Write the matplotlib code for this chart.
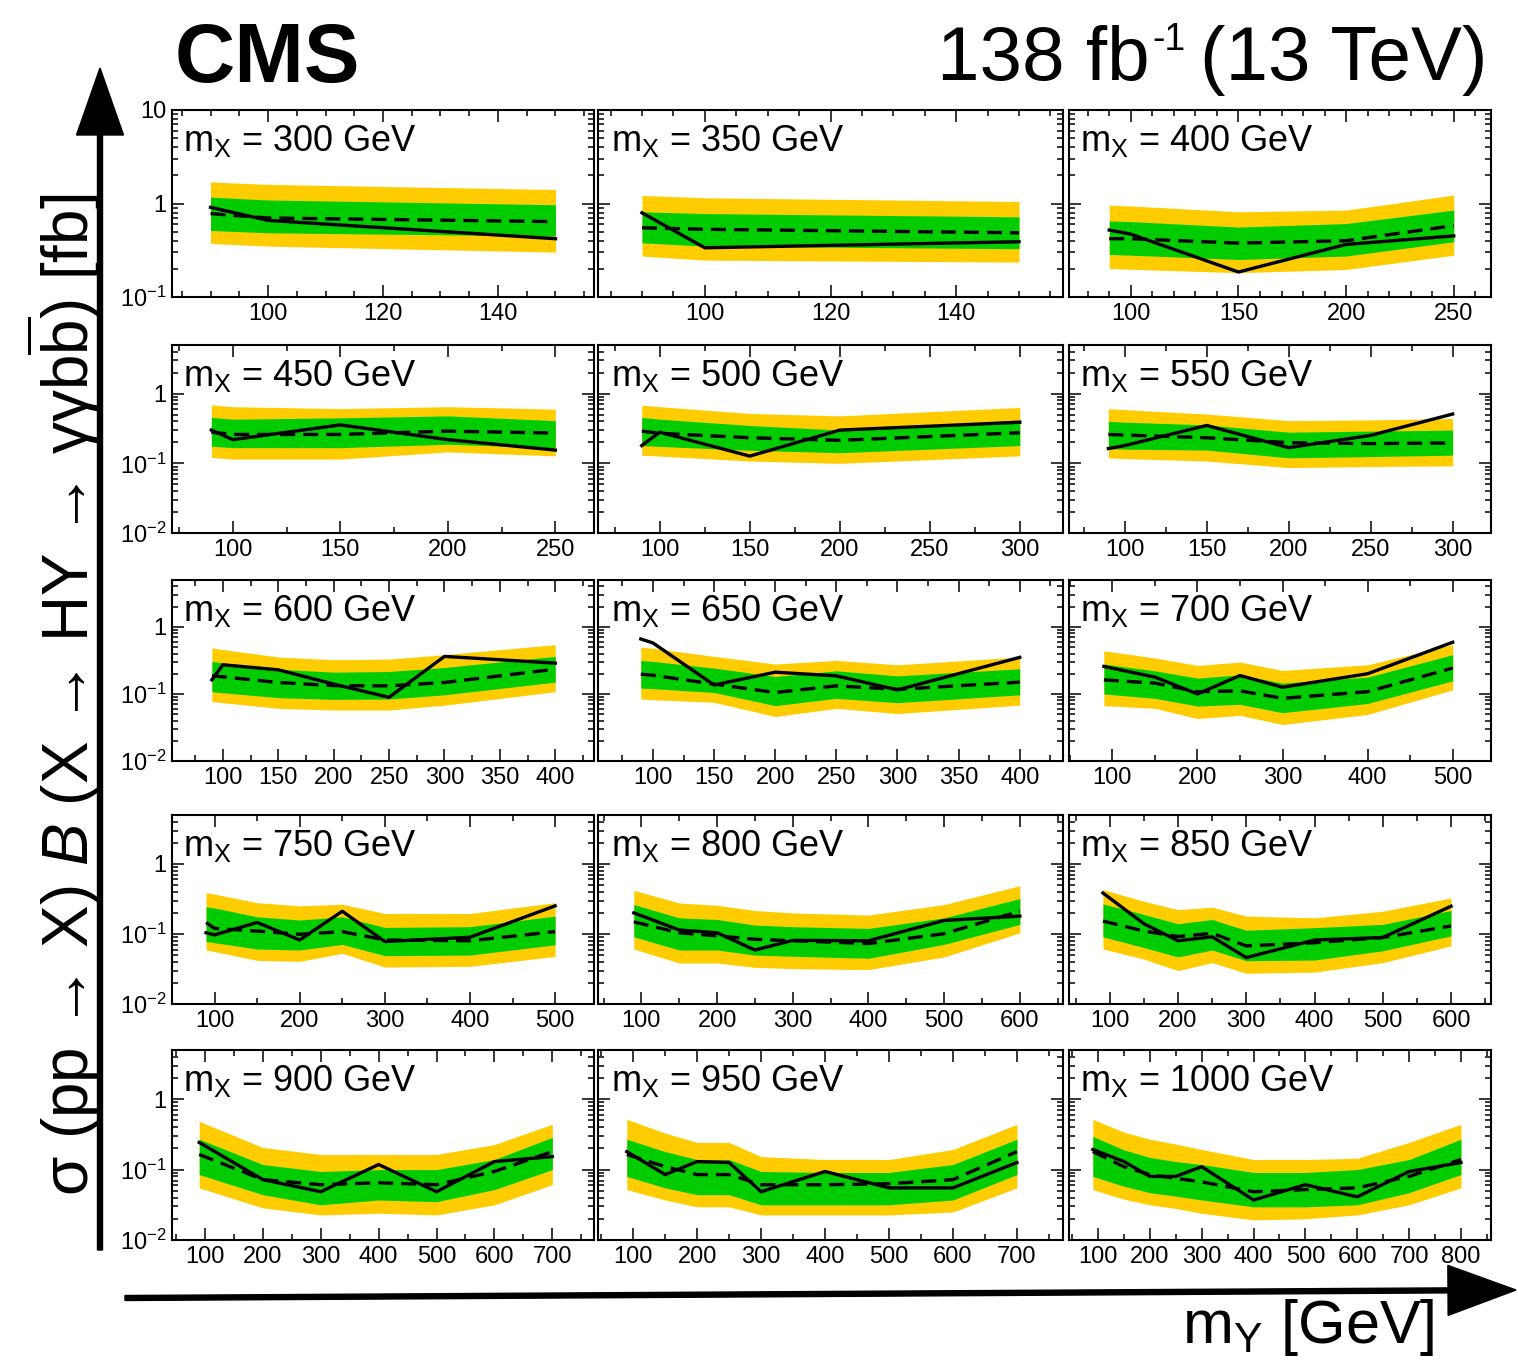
import math
import matplotlib
matplotlib.use('Agg')
import matplotlib.pyplot as plt
from matplotlib.patches import FancyArrow
from matplotlib.transforms import IdentityTransform
from matplotlib.ticker import MultipleLocator, LogLocator, FuncFormatter, NullFormatter

plt.rcParams['font.family'] = ['Liberation Sans', 'DejaVu Sans']
plt.rcParams['mathtext.fontset'] = 'custom'
plt.rcParams['mathtext.rm'] = 'Liberation Sans'
plt.rcParams['mathtext.it'] = 'Liberation Sans:italic'
plt.rcParams['mathtext.bf'] = 'Liberation Sans:bold'

# X masses, one panel each
mx_values = [300, 350, 400, 450, 500, 550, 600, 650, 700, 750, 800, 850, 900, 950, 1000]

# mY points of each panel (GeV)
my_points = [
    [90, 100, 150],
    [90, 100, 150],
    [90, 100, 150, 200, 250],
    [90, 100, 150, 200, 250],
    [90, 100, 150, 200, 300],
    [90, 100, 150, 200, 250, 300],
    [90, 100, 150, 200, 250, 300, 400],
    [90, 100, 150, 200, 250, 300, 400],
    [90, 150, 200, 250, 300, 400, 500],
    [90, 100, 150, 200, 250, 300, 400, 500],
    [90, 150, 200, 250, 300, 400, 500, 600],
    [90, 150, 200, 250, 300, 400, 500, 600],
    [90, 200, 300, 400, 500, 600, 700],
    [90, 150, 200, 250, 300, 400, 500, 600, 700],
    [90, 150, 200, 250, 300, 400, 500, 600, 700, 800],
]

# observed limits (fb)
obs_limit = [
    [0.91, 0.66, 0.42],
    [0.795, 0.336, 0.39],
    [0.52, 0.47, 0.185, 0.365, 0.45],
    [0.30, 0.219, 0.356, 0.219, 0.155],
    [0.18, 0.28, 0.127, 0.30, 0.389],
    [0.163, 0.18, 0.35, 0.168, 0.252, 0.51],
    [0.162, 0.272, 0.229, 0.14, 0.089, 0.363, 0.288],
    [0.66, 0.575, 0.136, 0.211, 0.186, 0.115, 0.351],
    [0.257, 0.178, 0.10, 0.188, 0.126, 0.20, 0.589],
    [0.104, 0.097, 0.146, 0.082, 0.211, 0.078, 0.0897, 0.252],
    [0.20, 0.114, 0.104, 0.059, 0.081, 0.08, 0.156, 0.18],
    [0.385, 0.14, 0.080, 0.091, 0.046, 0.082, 0.089, 0.249],
    [0.243, 0.072, 0.0485, 0.118, 0.0485, 0.13, 0.153],
    [0.18, 0.085, 0.13, 0.126, 0.0485, 0.094, 0.055, 0.055, 0.126],
    [0.193, 0.13, 0.08, 0.08, 0.11, 0.037, 0.061, 0.041, 0.094, 0.126],
]

# median expected limits (fb)
exp_limit = [
    [0.78, 0.70, 0.64],
    [0.55, 0.53, 0.486],
    [0.42, 0.42, 0.377, 0.40, 0.58],
    [0.28, 0.26, 0.26, 0.29, 0.272],
    [0.29, 0.27, 0.233, 0.214, 0.275],
    [0.26, 0.255, 0.233, 0.198, 0.192, 0.196],
    [0.186, 0.18, 0.148, 0.133, 0.132, 0.148, 0.234],
    [0.197, 0.19, 0.14, 0.105, 0.132, 0.117, 0.15],
    [0.162, 0.145, 0.108, 0.111, 0.086, 0.108, 0.243],
    [0.146, 0.12, 0.110, 0.099, 0.108, 0.082, 0.08, 0.108],
    [0.149, 0.104, 0.094, 0.084, 0.08, 0.073, 0.101, 0.211],
    [0.153, 0.110, 0.092, 0.102, 0.0676, 0.075, 0.089, 0.13],
    [0.164, 0.072, 0.061, 0.065, 0.061, 0.094, 0.18],
    [0.164, 0.11, 0.085, 0.085, 0.061, 0.061, 0.063, 0.072, 0.18],
    [0.18, 0.11, 0.085, 0.075, 0.067, 0.0485, 0.052, 0.055, 0.08, 0.139],
]

# 68% band
band68_hi = [
    [1.17, 1.09, 0.97],
    [0.815, 0.78, 0.72],
    [0.65, 0.64, 0.56, 0.61, 0.85],
    [0.457, 0.43, 0.45, 0.48, 0.41],
    [0.457, 0.43, 0.35, 0.30, 0.42],
    [0.40, 0.39, 0.356, 0.28, 0.29, 0.30],
    [0.305, 0.29, 0.234, 0.211, 0.216, 0.248, 0.363],
    [0.316, 0.305, 0.243, 0.182, 0.221, 0.186, 0.237],
    [0.279, 0.221, 0.172, 0.193, 0.145, 0.178, 0.385],
    [0.244, 0.235, 0.176, 0.158, 0.176, 0.124, 0.127, 0.18],
    [0.263, 0.17, 0.161, 0.134, 0.127, 0.12, 0.17, 0.32],
    [0.269, 0.19, 0.14, 0.161, 0.113, 0.123, 0.137, 0.216],
    [0.27, 0.118, 0.094, 0.10, 0.10, 0.139, 0.287],
    [0.27, 0.18, 0.139, 0.139, 0.094, 0.091, 0.091, 0.118, 0.27],
    [0.296, 0.19, 0.149, 0.13, 0.118, 0.091, 0.091, 0.10, 0.139, 0.27],
]
band68_lo = [
    [0.515, 0.486, 0.448],
    [0.38, 0.35, 0.328],
    [0.285, 0.28, 0.252, 0.274, 0.39],
    [0.176, 0.168, 0.168, 0.188, 0.167],
    [0.18, 0.175, 0.154, 0.142, 0.18],
    [0.163, 0.16, 0.155, 0.12, 0.125, 0.131],
    [0.108, 0.104, 0.088, 0.083, 0.084, 0.097, 0.15],
    [0.122, 0.12, 0.105, 0.067, 0.086, 0.074, 0.097],
    [0.10, 0.086, 0.066, 0.07, 0.0525, 0.072, 0.157],
    [0.078, 0.075, 0.061, 0.059, 0.071, 0.049, 0.050, 0.070],
    [0.091, 0.059, 0.059, 0.050, 0.048, 0.045, 0.071, 0.137],
    [0.091, 0.064, 0.047, 0.059, 0.0415, 0.0424, 0.0575, 0.094],
    [0.085, 0.044, 0.0316, 0.037, 0.035, 0.052, 0.10],
    [0.08, 0.055, 0.044, 0.044, 0.0316, 0.0316, 0.0316, 0.037, 0.085],
    [0.08, 0.058, 0.047, 0.042, 0.037, 0.0296, 0.0296, 0.0316, 0.047, 0.085],
]

# 95% band
band95_hi = [
    [1.70, 1.60, 1.41],
    [1.22, 1.15, 1.05],
    [0.96, 0.94, 0.815, 0.85, 1.23],
    [0.69, 0.65, 0.61, 0.65, 0.60],
    [0.684, 0.65, 0.52, 0.48, 0.634],
    [0.61, 0.59, 0.51, 0.41, 0.42, 0.44],
    [0.484, 0.46, 0.355, 0.324, 0.331, 0.385, 0.543],
    [0.496, 0.48, 0.363, 0.279, 0.316, 0.272, 0.355],
    [0.44, 0.343, 0.266, 0.299, 0.224, 0.272, 0.543],
    [0.389, 0.37, 0.28, 0.252, 0.266, 0.196, 0.196, 0.28],
    [0.42, 0.277, 0.257, 0.216, 0.20, 0.186, 0.263, 0.489],
    [0.43, 0.293, 0.223, 0.241, 0.18, 0.17, 0.211, 0.327],
    [0.485, 0.206, 0.164, 0.164, 0.164, 0.227, 0.44],
    [0.518, 0.33, 0.243, 0.243, 0.153, 0.139, 0.139, 0.193, 0.44],
    [0.518, 0.34, 0.27, 0.23, 0.193, 0.139, 0.139, 0.145, 0.243, 0.44],
]
band95_lo = [
    [0.374, 0.35, 0.302],
    [0.274, 0.248, 0.236],
    [0.202, 0.198, 0.182, 0.197, 0.28],
    [0.122, 0.115, 0.115, 0.146, 0.128],
    [0.131, 0.127, 0.108, 0.10, 0.128],
    [0.12, 0.117, 0.108, 0.087, 0.09, 0.092],
    [0.077, 0.074, 0.061, 0.0575, 0.0575, 0.068, 0.108],
    [0.084, 0.082, 0.075, 0.046, 0.061, 0.051, 0.068],
    [0.067, 0.061, 0.043, 0.048, 0.035, 0.0495, 0.115],
    [0.059, 0.056, 0.042, 0.0406, 0.053, 0.0337, 0.0345, 0.0478],
    [0.061, 0.0385, 0.0385, 0.0334, 0.032, 0.031, 0.047, 0.104],
    [0.061, 0.0438, 0.030, 0.039, 0.0275, 0.0285, 0.039, 0.0676],
    [0.055, 0.0286, 0.0227, 0.024, 0.0227, 0.0316, 0.061],
    [0.052, 0.037, 0.0296, 0.0296, 0.0227, 0.0227, 0.0227, 0.025, 0.055],
    [0.052, 0.038, 0.0316, 0.028, 0.024, 0.0193, 0.020, 0.0227, 0.0316, 0.055],
]

# layout (pixels of the 1518x1361 canvas)
W, H = 1518, 1361
col_px = [(172, 594), (598, 1063), (1069, 1491)]
row_px = [(110, 297), (345, 533), (580, 761), (815, 1004), (1050, 1240)]
xlims = [(83.3, 156.7), (83, 157), (71.3, 267.3),
         (71.7, 268), (65.7, 324), (66, 323.4),
         (54, 435), (55, 435.4), (49, 545),
         (50, 545.7), (42.7, 657), (40.3, 658.6),
         (43, 772), (45, 772), (44, 858)]
xmajor = [20, 20, 50, 50, 50, 50, 50, 50, 100, 100, 100, 100, 100, 100, 100]
xminor = [5, 5, 10, 25, 25, 25, 25, 25, 50, 50, 50, 50, 50, 50, 50]

yellow = '#FFCC00'
green = '#00CC00'


def ylab(v, pos):
    if abs(v - 1) < 1e-9:
        return '1'
    if abs(v - 10) < 1e-9:
        return '10'
    e = int(round(math.log10(v)))
    return r'10$^{%d}$' % e


fig = plt.figure(figsize=(W / 100, H / 100), dpi=100)

for i, mx in enumerate(mx_values):
    r, c = i // 3, i % 3
    x0, x1 = col_px[c]
    y0, y1 = row_px[r]
    ax = fig.add_axes([x0 / W, 1 - y1 / H, (x1 - x0) / W, (y1 - y0) / H])
    x = my_points[i]
    ax.fill_between(x, band95_lo[i], band95_hi[i], color=yellow, lw=0)
    ax.fill_between(x, band68_lo[i], band68_hi[i], color=green, lw=0)
    ax.plot(x, exp_limit[i], color='k', lw=2.4, ls='--', dashes=(4.5, 2.4))
    ax.plot(x, obs_limit[i], color='k', lw=2.4)
    ax.set_yscale('log')
    if r == 0:
        ax.set_ylim(0.1, 10)
    else:
        ax.set_ylim(0.01, 5)
    ax.set_xlim(*xlims[i])
    ax.xaxis.set_major_locator(MultipleLocator(xmajor[i]))
    ax.xaxis.set_minor_locator(MultipleLocator(xminor[i]))
    ax.yaxis.set_major_locator(LogLocator(base=10))
    ax.yaxis.set_minor_locator(LogLocator(base=10, subs=range(2, 10)))
    ax.yaxis.set_minor_formatter(NullFormatter())
    if c == 0:
        ax.yaxis.set_major_formatter(FuncFormatter(ylab))
    else:
        ax.yaxis.set_major_formatter(NullFormatter())
    ax.tick_params(which='both', direction='in', top=True, right=True,
                   width=1.1, labelsize=17)
    ax.tick_params(which='major', length=8.5, pad=4)
    ax.tick_params(which='minor', length=4.3)
    for s in ax.spines.values():
        s.set_linewidth(1.5)
    ax.text(0.027, 0.93, r'm$_{\rm X}$ = %d GeV' % mx, transform=ax.transAxes,
            ha='left', va='top', fontsize=26)

# header texts
fig.text(175 / W, 1 - 82 / H, 'CMS', fontsize=60, fontweight='bold',
         ha='left', va='baseline')
renderer = fig.canvas.get_renderer()
lumi_c = fig.text(1487, H - 80, '(13 TeV)', fontsize=55, ha='right',
                  va='baseline', transform=IdentityTransform())
bb = lumi_c.get_window_extent(renderer)
lumi_b = fig.text(bb.x0 - 14, H - 50, '-1', fontsize=27, ha='right',
                  va='baseline', transform=IdentityTransform())
bb = lumi_b.get_window_extent(renderer)
fig.text(bb.x0 - 3, H - 80, '138 fb', fontsize=55, ha='right',
         va='baseline', transform=IdentityTransform())

# axis titles
fig.text(64 / W, 1 - 695 / H,
         r'σ (pp → X) $\mathit{B}$ (X → HY → γγb$\overline{\rm b}$) [fb]',
         rotation=90, ha='center', va='center', fontsize=46)
fig.text(1435 / W, 1 - 1343 / H, r'm$_{\rm Y}$ [GeV]', fontsize=44,
         ha='right', va='baseline')

# big arrows along the axes (in inches)
fig.add_artist(FancyArrow(1.00, (H - 1250) / 100, 0, (1250 - 68) / 100,
                          width=0.05, head_width=0.47, head_length=0.67,
                          length_includes_head=True, color='k',
                          transform=fig.dpi_scale_trans))
fig.add_artist(FancyArrow(1.25, (H - 1298) / 100, (1516 - 125) / 100, 0.08,
                          width=0.05, head_width=0.5, head_length=0.68,
                          length_includes_head=True, color='k',
                          transform=fig.dpi_scale_trans))

fig.savefig('out.png', dpi=100)
